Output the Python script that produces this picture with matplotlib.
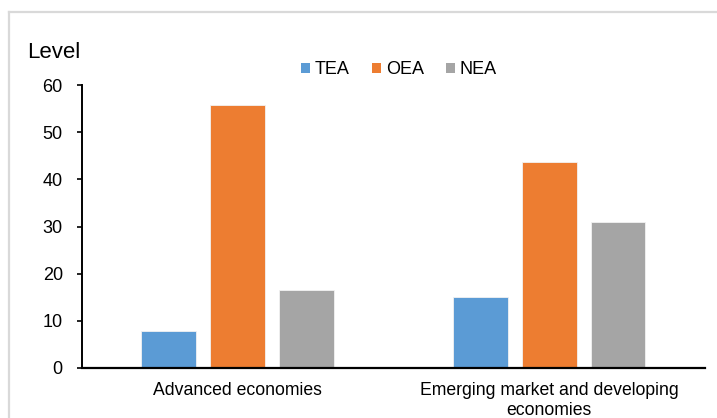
import matplotlib
matplotlib.use("Agg")
import matplotlib.pyplot as plt
from matplotlib.patches import Patch
import numpy as np

plt.rcParams['font.family'] = ['Liberation Sans', 'DejaVu Sans']

categories = ["Advanced economies", "Emerging market and developing\neconomies"]
series_names = ["TEA", "OEA", "NEA"]
tea = [7.8, 15.1]
oea = [55.8, 43.6]
nea = [16.6, 31.0]
colors = ["#5B9BD5", "#ED7D31", "#A5A5A5"]
yticks = [0, 10, 20, 30, 40, 50, 60]

W, H = 717, 418
fig = plt.figure(figsize=(W / 100, H / 100), dpi=100)
fig.patch.set_facecolor("white")

# figure border (left and top visible)
fig.add_artist(plt.Line2D([8.5 / W, 8.5 / W], [0, 1 - 11.5 / H], transform=fig.transFigure,
                          color="#d9d9d9", lw=1.6))
fig.add_artist(plt.Line2D([8.5 / W, 1], [1 - 11.5 / H, 1 - 11.5 / H], transform=fig.transFigure,
                          color="#d9d9d9", lw=1.6))

left, right = 81.5 / W, 705 / W
bottom, top = 1 - 368 / H, 1 - 85 / H
ax = fig.add_axes([left, bottom, right - left, top - bottom])

x = np.arange(len(categories))
bw = 0.176
off = 0.221
for i, (vals, c, name) in enumerate(zip([tea, oea, nea], colors, series_names)):
    ax.bar(x + (i - 1) * off, vals, width=bw, color=c, edgecolor="#f2f2f2", linewidth=0.6,
           label=name, zorder=2)

ax.set_xlim(-0.5, 1.5)
ax.set_ylim(0, 60)
ax.set_yticks(yticks)
ax.set_yticklabels([str(t) for t in yticks], fontsize=13)
ax.set_xticks(x)
ax.set_xticklabels(categories, fontsize=12.7, linespacing=1.25)
ax.tick_params(axis='x', length=0, pad=10)
ax.tick_params(axis='y', length=3.5, width=1.2, pad=10, direction='out')

for s in ["top", "right"]:
    ax.spines[s].set_visible(False)
ax.spines["left"].set_linewidth(1.4)
ax.spines["bottom"].set_linewidth(1.6)

fig.text(27 / W, 1 - 53 / H, "Level", fontsize=16, ha="left", va="center")

handles = [Patch(facecolor=c, edgecolor="none") for c in colors]
fig.legend(handles, series_names, loc="center", bbox_to_anchor=(399 / W, 1 - 70 / H), ncol=3,
           frameon=False, fontsize=13, handlelength=0.5, handleheight=0.5, handletextpad=0.25,
           columnspacing=1.25)

fig.savefig("out.png", dpi=100, facecolor="white")
